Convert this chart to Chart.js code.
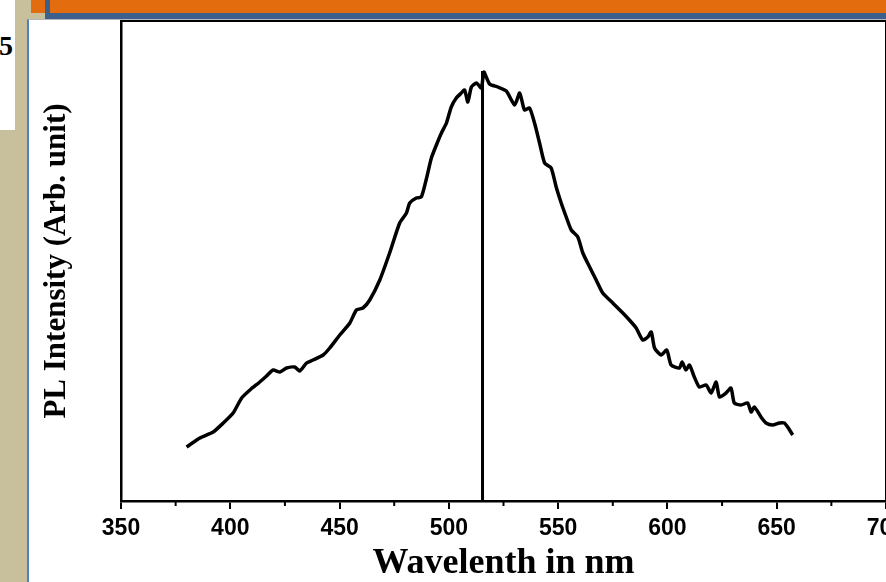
<!DOCTYPE html>
<html>
<head>
<meta charset="utf-8">
<script src="https://cdn.jsdelivr.net/npm/chart.js@4"></script>
<style>
  html, body { margin: 0; padding: 0; width: 886px; height: 582px; overflow: hidden; background: #c8bf9d; }
  #note { position: absolute; left: 0; top: 0; width: 15px; height: 130px; background: #fff; overflow: hidden; }
  #note span { position: absolute; right: 2px; top: 30px; font: bold 28px "Liberation Serif", serif; }
  #orange { position: absolute; left: 31px; top: 0; width: 855px; height: 13px; background: #e36c0e; }
  #blueH { position: absolute; left: 45px; top: 13px; width: 841px; height: 6px; background: #3c5f8c; }
  #blueV { position: absolute; left: 45px; top: 0; width: 5px; height: 19px; background: #3c5f8c; }
  #panel { position: absolute; left: 27px; top: 19px; width: 859px; height: 563px; background: #fff; border-left: 2px solid #4f81bd; border-top: 1px solid #b8b8b8; box-sizing: border-box; }
  #chart { position: absolute; left: 28px; top: 20px; }
</style>
</head>
<body>
<div id="note"><span>5</span></div>
<div id="orange"></div>
<div id="blueV"></div>
<div id="blueH"></div>
<div id="panel"></div>
<canvas id="chart" width="900" height="562"></canvas>
<script>
// PL spectrum (intensity in arbitrary units)
const wavelengths = [
  380.0, 386.1, 392.2, 396.8, 401.3, 405.2, 409.0, 413.5, 416.6, 419.6,
  422.7, 425.7, 429.5, 431.8, 434.9, 437.9, 442.5, 445.5, 450.1, 454.7,
  457.7, 460.7, 463.8, 468.4, 472.9, 477.5, 480.6, 482.1, 485.1, 487.4,
  489.7, 492.0, 494.3, 496.6, 498.9, 501.1, 503.4, 505.7, 507.2, 508.7,
  510.3, 512.6, 514.9, 516.0, 518.6, 522.4, 526.3, 530.1, 532.4, 534.6,
  536.9, 539.2, 541.5, 543.8, 546.8, 549.1, 551.4, 553.7, 556.0, 559.0,
  561.3, 564.4, 567.4, 570.4, 575.0, 579.6, 582.6, 585.7, 588.7, 591.0,
  592.6, 594.1, 597.1, 599.7, 601.7, 605.5, 606.7, 608.5, 610.1, 612.3,
  614.6, 617.7, 620.0, 622.3, 623.8, 626.8, 629.1, 630.6, 633.7, 636.7,
  638.3, 639.8, 642.8, 645.1, 648.1, 651.2, 653.5, 655.0, 657.3
];
const intensities = [
  54, 63, 69, 78, 88, 103, 111, 119, 125, 131,
  129, 133, 134, 130, 138, 141, 146, 153, 166, 178,
  191, 193, 201, 221, 248, 278, 288, 298, 303, 304,
  322, 343, 356, 368, 378, 394, 403, 408, 411, 399,
  414, 418, 413, 429, 417, 414, 410, 396, 408, 391,
  393, 378, 358, 338, 333, 314, 298, 284, 271, 264,
  248, 234, 221, 208, 198, 188, 181, 173, 161, 164,
  169, 153, 146, 151, 136, 133, 139, 131, 136, 124,
  114, 116, 108, 119, 104, 108, 113, 98, 96, 98,
  89, 94, 84, 78, 76, 78, 78, 74, 66
];
const peakWavelength = 515.4;
const peakTop = 430;
const xTicks = [350, 400, 450, 500, 550, 600, 650, 700];
const xMinorTicks = [375, 425, 475, 525, 575, 625, 675];

const spectrum = wavelengths.map((w, i) => ({ x: w, y: intensities[i] }));
const peakLine = [{ x: peakWavelength, y: 0 }, { x: peakWavelength, y: peakTop }];

// frame on top/right + minor ticks on the x axis
const framePlugin = {
  id: 'frame',
  afterDraw(chart) {
    const { ctx, chartArea: a, scales: { x } } = chart;
    ctx.save();
    ctx.strokeStyle = '#000';
    ctx.lineWidth = 2;
    ctx.beginPath();
    ctx.moveTo(a.left, a.top);
    ctx.lineTo(a.right, a.top);
    ctx.lineTo(a.right, a.bottom);
    ctx.stroke();
    ctx.beginPath();
    xMinorTicks.forEach(v => {
      const px = x.getPixelForValue(v);
      ctx.moveTo(px, a.bottom);
      ctx.lineTo(px, a.bottom + 5);
    });
    ctx.stroke();
    ctx.restore();
  }
};

new Chart(document.getElementById('chart'), {
  type: 'line',
  data: {
    datasets: [
      { data: spectrum, borderColor: '#000', borderWidth: 3.5, pointRadius: 0, tension: 0.2 },
      { data: peakLine, borderColor: '#000', borderWidth: 3, pointRadius: 0 }
    ]
  },
  options: {
    responsive: false,
    animation: false,
    devicePixelRatio: 1,
    layout: { padding: { left: 0, top: 1, right: 42, bottom: 0 } },
    plugins: { legend: { display: false }, tooltip: { enabled: false } },
    scales: {
      x: {
        type: 'linear',
        min: 350,
        max: 700,
        afterBuildTicks: s => { s.ticks = xTicks.map(v => ({ value: v })); },
        afterFit: s => { s.height = 81; },
        ticks: {
          autoSkip: false,
          maxRotation: 0,
          padding: 6,
          color: '#000',
          font: { family: '"Liberation Sans", Arial, sans-serif', size: 23, weight: 'bold' }
        },
        grid: { drawOnChartArea: false, drawTicks: true, tickLength: 8, color: '#000', lineWidth: 2 },
        border: { color: '#000', width: 2.5 },
        title: {
          display: true,
          text: 'Wavelenth in nm',
          color: '#000',
          padding: { top: 0, bottom: 0 },
          font: { family: '"Liberation Serif", "Times New Roman", serif', size: 36, weight: 'bold', lineHeight: 1 }
        }
      },
      y: {
        min: 0,
        max: 480,
        afterFit: s => { s.width = 93; },
        ticks: { display: false },
        grid: { display: false },
        border: { color: '#000', width: 2.5 },
        title: {
          display: true,
          text: 'PL Intensity (Arb. unit)',
          color: '#000',
          padding: { top: 10, bottom: 0 },
          font: { family: '"Liberation Serif", "Times New Roman", serif', size: 31, weight: 'bold' }
        }
      }
    }
  },
  plugins: [framePlugin]
});
</script>
</body>
</html>
